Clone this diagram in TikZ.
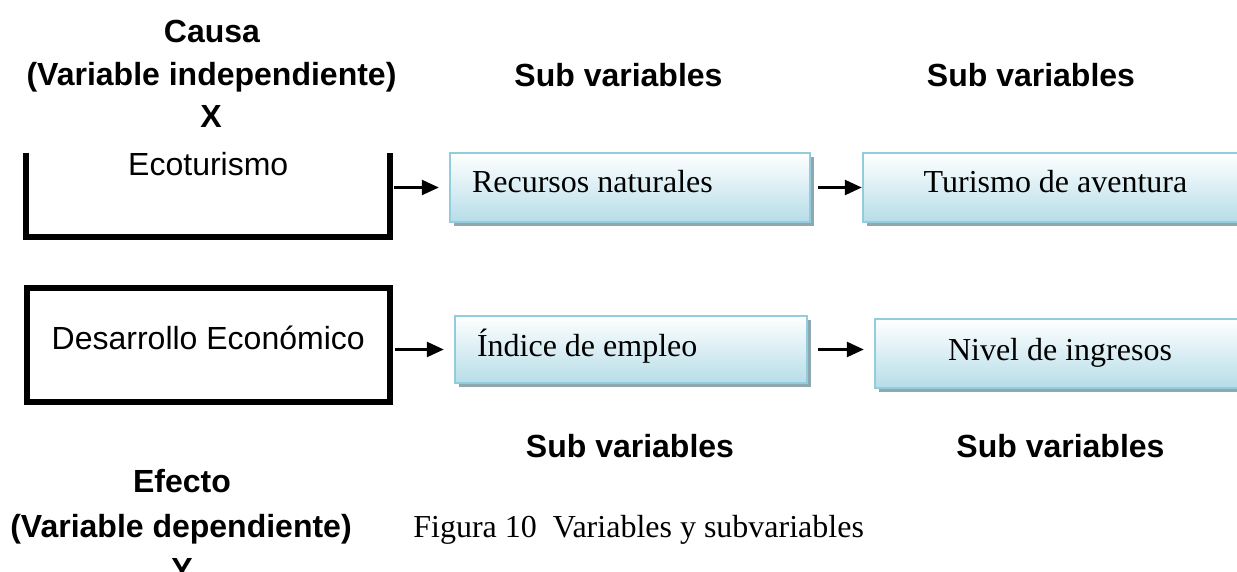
\documentclass[tikz,border=0pt]{standalone}
\usepackage{fontspec}
\setmainfont{Liberation Serif}
\setsansfont{Liberation Sans}
\usetikzlibrary{shadows,arrows.meta}
\definecolor{boxblue}{HTML}{B6DDE8}
\definecolor{boxline}{HTML}{93CDDD}
\definecolor{shadowc}{HTML}{8FA7AE}
\begin{document}
\begin{tikzpicture}[x=0.5pt,y=-0.5pt,
  heading/.style={font=\sffamily\bfseries\fontsize{16}{19}\selectfont, anchor=base, inner sep=0pt},
  captiontext/.style={font=\rmfamily\fontsize{16}{19}\selectfont, anchor=base west, inner sep=0pt},
  subbox/.style={draw=boxline, line width=1.2pt, top color=white, bottom color=boxblue,
    drop shadow={shadow xshift=2pt, shadow yshift=-2pt, fill=shadowc, opacity=1},
    font=\rmfamily\fontsize{16}{19}\selectfont, inner ysep=0pt, text height=11pt},
  leftsub/.style={subbox, align=flush left, inner xsep=11pt},
  thickline/.style={line width=3pt, line join=miter},
  arr/.style={-{Triangle[length=8.5pt,width=7.5pt]}, line width=1.25pt}
]
\clip (0,0) rectangle (1237,572);
\fill[white] (0,0) rectangle (1237,572);

% headings
\node[heading] (c1) at (212,43) {Causa};
\node[heading] (c2) at (211.5,85.5) {(Variable independiente)};
\node[heading] (c3) at (211,128) {X};
\node[heading] (e1) at (182,492) {Efecto};
\node[heading] (e2) at (181,537) {(Variable dependiente)};
\node[heading] (e3) at (182,580) {Y};
\node[heading] (sv1) at (618.5,87) {Sub variables};
\node[heading] (sv2) at (1031,87) {Sub variables};
\node[heading] (sv3) at (630,457) {Sub variables};
\node[heading] (sv4) at (1060.5,457) {Sub variables};

% main variable boxes
\node[font=\sffamily\fontsize{16}{19}\selectfont, inner sep=0pt, minimum width=181.75pt,
      minimum height=41.75pt, text height=11.5pt, text depth=30.25pt] (eco) at (208.25,194.75) {Ecoturismo};
\draw[thickline] (eco.north west) -- (eco.south west) -- (eco.south east) -- (eco.north east);

\node[draw, thickline, font=\sffamily\fontsize{16}{19}\selectfont, inner sep=0pt, outer sep=0pt,
      minimum width=181.75pt, minimum height=57pt, text height=11.5pt, text depth=6.5pt] (des) at (208.25,345) {Desarrollo Económico};

% sub-variable boxes
\node[leftsub, text width=158pt, minimum height=34.5pt, text depth=5.5pt] (rec) at (630,187.5) {Recursos naturales};
\node[subbox, minimum width=192.5pt, minimum height=34.5pt, text depth=5.5pt] (tur) at (1055.5,187.5) {Turismo de aventura};
\node[leftsub, text width=154pt, minimum height=33.5pt, text depth=3.5pt] (ind) at (631,349.5) {Índice de empleo};
\node[subbox, minimum width=185pt, minimum height=34.5pt, text depth=4.5pt] (niv) at (1060,353.5) {Nivel de ingresos};

% arrows
\draw[arr, shorten <=2pt, shorten >=5pt] (eco.east |- rec.west) -- (rec.west);
\draw[arr, shorten <=2.5pt, shorten >=5pt] (des.east |- ind.west) -- (ind.west);
\draw[arr, shorten <=3.5pt] (rec.east) -- (tur.west);
\draw[arr, shorten <=5pt, shorten >=5pt] (ind.east) -- (niv.west |- ind.east);

% caption
\node[captiontext] (cap) at (413,537) {Figura 10\ \ Variables y subvariables};
\end{tikzpicture}
\end{document}
